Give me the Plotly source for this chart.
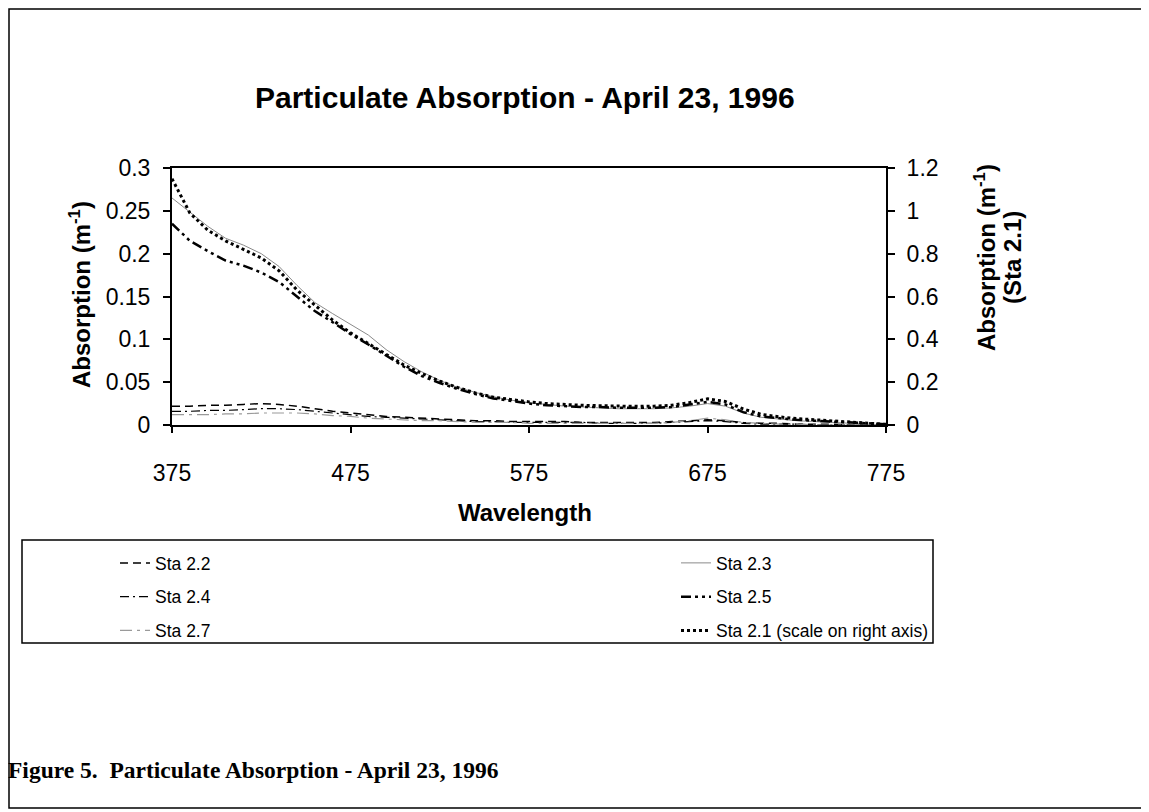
#! /usr/bin/env python3
import plotly.graph_objects as go

# wavelengths (nm), one reading every 10 nm
wavelength = list(range(375, 776, 10))

# left-axis stations (m^-1)
sta_2_2 = [0.022, 0.022, 0.023, 0.023, 0.024, 0.025, 0.024, 0.022, 0.019, 0.016,
           0.014, 0.012, 0.010, 0.009, 0.008, 0.007, 0.006, 0.005, 0.005, 0.004,
           0.004, 0.004, 0.004, 0.003, 0.003, 0.003, 0.003, 0.003, 0.004, 0.005,
           0.006, 0.005, 0.003, 0.002, 0.002, 0.001, 0.001, 0.001, 0.0, 0.0, 0.0]
sta_2_3 = [0.265, 0.248, 0.232, 0.218, 0.210, 0.200, 0.185, 0.163, 0.143, 0.130,
           0.118, 0.105, 0.088, 0.074, 0.062, 0.052, 0.044, 0.038, 0.033, 0.029,
           0.026, 0.024, 0.022, 0.021, 0.020, 0.019, 0.019, 0.019, 0.020, 0.022,
           0.025, 0.022, 0.014, 0.009, 0.007, 0.005, 0.004, 0.003, 0.002, 0.001, 0.0]
sta_2_4 = [0.016, 0.016, 0.017, 0.017, 0.018, 0.019, 0.019, 0.018, 0.016, 0.014,
           0.012, 0.010, 0.009, 0.008, 0.007, 0.006, 0.005, 0.004, 0.004, 0.003,
           0.003, 0.003, 0.003, 0.003, 0.002, 0.002, 0.002, 0.002, 0.003, 0.004,
           0.005, 0.004, 0.002, 0.001, 0.001, 0.001, 0.0, 0.0, 0.0, 0.0, 0.0]
sta_2_5 = [0.235, 0.215, 0.203, 0.192, 0.186, 0.178, 0.167, 0.150, 0.133, 0.120,
           0.106, 0.094, 0.081, 0.068, 0.057, 0.049, 0.042, 0.036, 0.031, 0.028,
           0.025, 0.023, 0.022, 0.021, 0.021, 0.020, 0.020, 0.020, 0.021, 0.024,
           0.027, 0.024, 0.015, 0.010, 0.008, 0.006, 0.005, 0.004, 0.003, 0.002, 0.001]
sta_2_7 = [0.012, 0.012, 0.012, 0.013, 0.013, 0.014, 0.014, 0.014, 0.013, 0.011,
           0.010, 0.008, 0.007, 0.006, 0.005, 0.005, 0.004, 0.003, 0.003, 0.003,
           0.002, 0.002, 0.002, 0.002, 0.002, 0.002, 0.002, 0.002, 0.003, 0.005,
           0.008, 0.006, 0.003, 0.002, 0.001, 0.001, 0.0, 0.0, 0.0, 0.0, 0.0]

# right axis
sta_2_1 = [1.15, 0.99, 0.91, 0.86, 0.82, 0.78, 0.72, 0.63, 0.56, 0.49,
           0.43, 0.38, 0.33, 0.28, 0.24, 0.205, 0.175, 0.15, 0.13, 0.118,
           0.108, 0.100, 0.095, 0.092, 0.090, 0.088, 0.087, 0.088, 0.092, 0.105,
           0.122, 0.110, 0.075, 0.050, 0.038, 0.030, 0.025, 0.020, 0.014, 0.008, 0.003]

x_ticks = [375, 475, 575, 675, 775]

FONT = "Liberation Sans, Arial, sans-serif"

# page body has an 8px margin, so work in screen pixels and shift
OFF = 8
W, H = 1149 - OFF, 812 - OFF
L, R, T, B = 172 - OFF, 886 - OFF, 168 - OFF, 425 - OFF
PW, PH = R - L, B - T


def px_x(p):
    return (p - OFF - L) / PW


def px_y(p):
    return (B - (p - OFF)) / PH


def main():
    fig = go.Figure()
    # (name, values, line, legend, axis)
    series = [
        ("Sta 2.2", sta_2_2, dict(color="black", width=1.5, dash="8px,5px"), "legend", "y"),
        ("Sta 2.4", sta_2_4, dict(color="black", width=1.2, dash="9px,4px,2px,4px"), "legend", "y"),
        ("Sta 2.7", sta_2_7, dict(color="#9a9a9a", width=1.2, dash="12px,5px,3px,5px"), "legend", "y"),
        ("Sta 2.3", sta_2_3, dict(color="#8a8a8a", width=1), "legend2", "y"),
        ("Sta 2.5", sta_2_5, dict(color="black", width=2.5, dash="10px,4px,3px,4px,3px,4px"), "legend2", "y"),
        ("Sta 2.1 (scale on right axis)", sta_2_1, dict(color="black", width=3, dash="3px,3px"),
         "legend2", "y2"),
    ]
    for name, vals, line, leg, ax in series:
        fig.add_trace(go.Scatter(x=wavelength, y=vals, name=name, mode="lines", line=line,
                                 legend=leg, legendgroup=name, yaxis=ax))

    tickfont = dict(family=FONT, size=23, color="black")
    titlefont = dict(family=FONT, size=24, color="black")
    legfont = dict(family=FONT, size=17.5, color="black")

    fig.update_layout(
        width=W, height=H,
        margin=dict(l=L, r=W - R, t=T, b=H - B),
        paper_bgcolor="white", plot_bgcolor="white",
        showlegend=True,
        legend=dict(x=px_x(115), y=px_y(545), xanchor="left", yanchor="top",
                    font=legfont, tracegroupgap=8, bgcolor="rgba(0,0,0,0)"),
        legend2=dict(x=px_x(676), y=px_y(545), xanchor="left", yanchor="top",
                     font=legfont, tracegroupgap=8, bgcolor="rgba(0,0,0,0)"),
        xaxis=dict(range=[375, 775], tickvals=x_ticks, showgrid=False, zeroline=False,
                   showline=True, linecolor="black", linewidth=2, mirror=True,
                   ticks="outside", ticklen=6, tickwidth=1.5, tickcolor="black",
                   tickfont=tickfont, ticklabelstandoff=20),
        yaxis=dict(range=[0, 0.3], dtick=0.05, showgrid=False, zeroline=False,
                   showline=True, linecolor="black", linewidth=2,
                   ticks="outside", ticklen=7, tickwidth=1.5, tickcolor="black",
                   tickfont=tickfont, tickformat="~g", ticklabelstandoff=8),
        yaxis2=dict(range=[0, 1.2], dtick=0.2, overlaying="y", side="right", showgrid=False,
                    zeroline=False, showline=True, linecolor="black", linewidth=2,
                    ticks="outside", ticklen=7, tickwidth=1.5, tickcolor="black",
                    tickfont=tickfont, tickformat="~g", ticklabelstandoff=7),
        yaxis3=dict(range=[0, 0.3], dtick=0.05, overlaying="y", side="left", showgrid=False,
                    zeroline=False, showline=False, showticklabels=False,
                    ticks="inside", ticklen=7, tickwidth=1.5, tickcolor="black"),
        yaxis4=dict(range=[0, 1.2], dtick=0.2, overlaying="y", side="right", showgrid=False,
                    zeroline=False, showline=False, showticklabels=False,
                    ticks="inside", ticklen=7, tickwidth=1.5, tickcolor="black"),
        xaxis2=dict(range=[375, 775], tickvals=x_ticks, overlaying="x", side="bottom",
                    anchor="y", showgrid=False, zeroline=False, showline=False,
                    showticklabels=False, ticks="inside", ticklen=6, tickwidth=1.5,
                    tickcolor="black"),
    )

    ann = [
        dict(text="<b>Particulate Absorption - April 23, 1996</b>", x=px_x(525), y=px_y(97),
             font=dict(family=FONT, size=30, color="black")),
        dict(text="<b>Wavelength</b>", x=px_x(525), y=px_y(512), font=titlefont),
        dict(text="<b>Absorption (m<sup>-1</sup>)</b>", x=px_x(80), y=px_y(295),
             textangle=-90, font=titlefont),
        dict(text="<b>Absorption (m<sup>-1</sup>)</b>", x=px_x(985), y=px_y(258),
             textangle=-90, font=titlefont),
        dict(text="<b>(Sta 2.1)</b>", x=px_x(1012), y=px_y(258),
             textangle=-90, font=titlefont),
        dict(text="<b>Figure 5.  Particulate Absorption - April 23, 1996</b>",
             x=px_x(6), y=px_y(770), xanchor="left",
             font=dict(family="Liberation Serif, Times New Roman, serif", size=23.5, color="black")),
    ]
    for a in ann:
        a.setdefault("xanchor", "center")
        fig.add_annotation(xref="paper", yref="paper", showarrow=False, yanchor="middle", **a)

    # legend frame and outer frame
    fig.add_shape(type="rect", xref="paper", yref="paper",
                  x0=px_x(22), x1=px_x(933), y0=px_y(643), y1=px_y(540),
                  line=dict(color="black", width=1.5))
    fig.add_shape(type="rect", xref="paper", yref="paper",
                  x0=px_x(OFF + 1), x1=px_x(1147), y0=px_y(808), y1=px_y(OFF + 1),
                  line=dict(color="black", width=1.5))

    fig.write_html("out.html")


if __name__ == "__main__":
    main()
